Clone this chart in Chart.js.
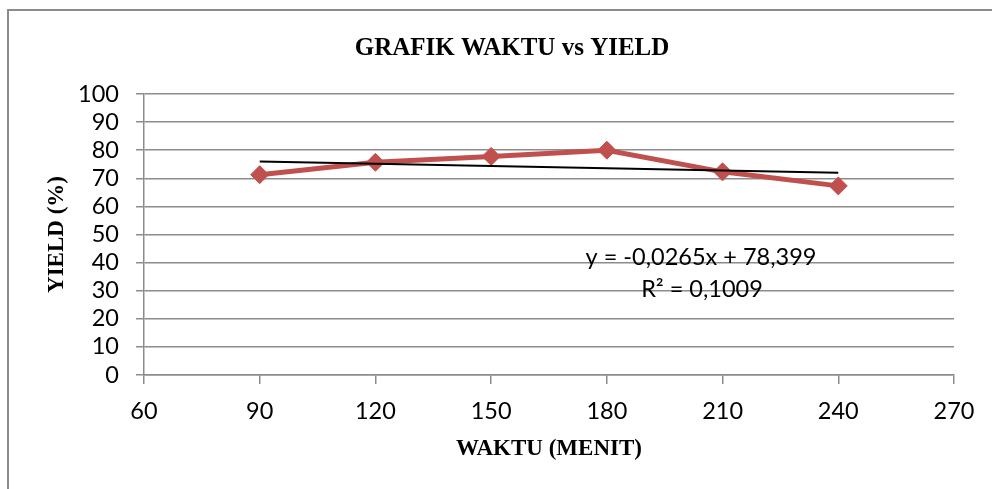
<!DOCTYPE html>
<html>
<head>
<meta charset="utf-8">
<title>Grafik Waktu vs Yield</title>
<script src="https://cdn.jsdelivr.net/npm/chart.js@4.4.0/dist/chart.umd.min.js"></script>
<style>
  html, body { margin: 0; padding: 0; background: #fff; overflow: hidden; }
  #wadah { position: relative; width: 992px; height: 489px; }
</style>
</head>
<body>
<div id="wadah"><canvas id="grafik"></canvas></div>
<script>
// data
var waktu = [90, 120, 150, 180, 210, 240];
var yieldPersen = [71.3, 75.7, 77.8, 80.0, 72.3, 67.3];

// garis tren linear (ujung-ujungnya)
var trenX = [90, 240];
var trenY = [76.0, 72.0];

var sumbuX = { min: 60, max: 270, langkah: 30 };
var sumbuY = { min: 0, max: 100, langkah: 10 };

var judul = "GRAFIK WAKTU vs YIELD";
var judulX = "WAKTU (MENIT)";
var judulY = "YIELD (%)";
var persamaan = "y = -0,0265x + 78,399";
var rKuadrat = "R\u00b2 = 0,1009";

var abu = "#8c8c8c";
var merah = "#C0504D";

var titik = [];
for (var i = 0; i < waktu.length; i++) titik.push({ x: waktu[i], y: yieldPersen[i] });
var tren = [];
for (var j = 0; j < trenX.length; j++) tren.push({ x: trenX[j], y: trenY[j] });

var teksPlugin = {
  id: "teks",
  beforeDraw: function(chart) {
    var ctx = chart.ctx;
    ctx.save();
    ctx.strokeStyle = abu;
    ctx.lineWidth = 2;
    ctx.beginPath();
    ctx.moveTo(8, 500);
    ctx.lineTo(8, 10);
    ctx.lineTo(1000, 10);
    ctx.stroke();
    ctx.restore();
  },
  afterDraw: function(chart) {
    var ctx = chart.ctx;
    ctx.save();
    ctx.fillStyle = "#000";
    ctx.textAlign = "center";
    ctx.textBaseline = "alphabetic";
    ctx.font = 'bold 25px "Liberation Serif"';
    ctx.fillText(judul, 512, 55);
    ctx.font = "23.5px Lato";
    ctx.fillText(persamaan, 701, 265);
    ctx.fillText(rKuadrat, 702, 297);
    ctx.restore();
  }
};

new Chart(document.getElementById("grafik"), {
  type: "scatter",
  data: {
    datasets: [{
      label: "tren",
      data: tren,
      showLine: true,
      borderColor: "#000",
      borderWidth: 2,
      pointRadius: 0,
      order: 0
    }, {
      label: "yield",
      data: titik,
      showLine: true,
      borderColor: merah,
      backgroundColor: merah,
      borderWidth: 5,
      pointStyle: "rectRot",
      pointRadius: 9,
      pointBorderWidth: 1,
      pointBackgroundColor: merah,
      pointBorderColor: merah,
      order: 1
    }]
  },
  options: {
    responsive: true,
    maintainAspectRatio: false,
    animation: false,
    layout: { padding: { top: 94, right: 38, bottom: 0, left: 0 } },
    plugins: {
      legend: { display: false },
      tooltip: { enabled: false },
      title: { display: false }
    },
    scales: {
      x: {
        type: "linear",
        min: sumbuX.min,
        max: sumbuX.max,
        afterFit: function(s) { s.height = 114; },
        ticks: {
          stepSize: sumbuX.langkah,
          autoSkip: false,
          color: "#000",
          padding: 13,
          font: { family: "Lato", size: 23.5 }
        },
        grid: { drawOnChartArea: false, drawTicks: true, tickLength: 9, color: abu, lineWidth: 1.5 },
        border: { display: true, color: abu, width: 1.5 },
        title: {
          display: true,
          text: judulX,
          color: "#000",
          font: { family: "Liberation Serif", size: 23, weight: "bold" },
          padding: { top: 0, bottom: 26 }
        }
      },
      y: {
        type: "linear",
        min: sumbuY.min,
        max: sumbuY.max,
        afterFit: function(s) { s.width = 144; },
        ticks: {
          stepSize: sumbuY.langkah,
          autoSkip: false,
          color: "#000",
          padding: 17,
          font: { family: "Lato", size: 23.5 }
        },
        grid: { drawOnChartArea: true, drawTicks: true, tickLength: 8, color: abu, lineWidth: 1.5 },
        border: { display: true, color: abu, width: 1.5 },
        title: {
          display: true,
          text: judulY,
          color: "#000",
          font: { family: "Liberation Serif", size: 23, weight: "bold" },
          padding: { top: 43, bottom: 0 }
        }
      }
    }
  },
  plugins: [teksPlugin]
});
</script>
</body>
</html>
